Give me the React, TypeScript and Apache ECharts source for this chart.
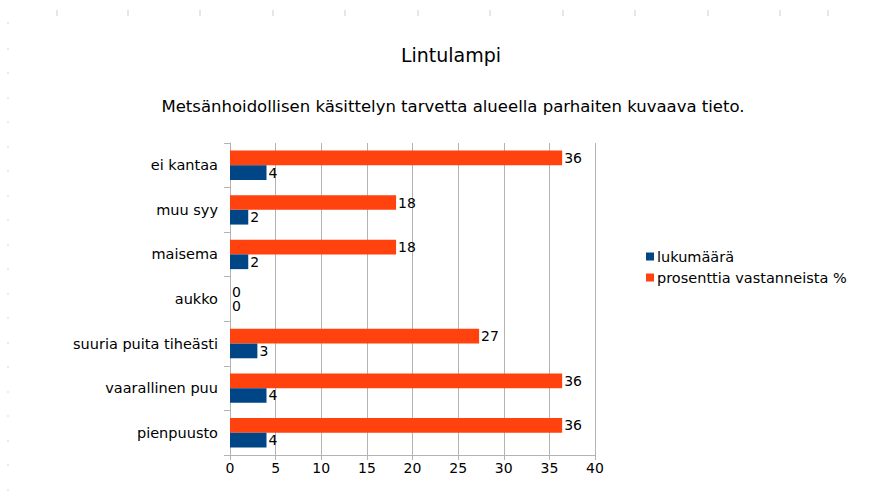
import React, { useEffect, useRef } from "react";
import * as echarts from "echarts";

const titleText = "Lintulampi";
const subtitleText = "Metsänhoidollisen käsittelyn tarvetta alueella parhaiten kuvaava tieto.";
const categories = ["pienpuusto", "vaarallinen puu", "suuria puita tiheästi", "aukko", "maisema", "muu syy", "ei kantaa"];
const seriesNames = ["lukumäärä", "prosenttia vastanneista %"];
const countValues = [4, 4, 3, 0, 2, 2, 4];
const percentValues = [36.4, 36.4, 27.3, 0, 18.2, 18.2, 36.4];
const xTicks = { min: 0, max: 40, interval: 5 };

const topMarksX = [57, 128, 200, 273, 345, 418, 490, 563, 635, 708, 780, 828];
const leftMarksY = [22, 48, 72, 97, 121, 146, 170, 195, 219, 244, 268, 293, 317, 342, 366, 391, 415, 440, 464, 489];

export default function App() {
  const ref = useRef<HTMLDivElement>(null);
  useEffect(() => {
    const chart = echarts.init(ref.current!, null, { renderer: "svg" });
    const font = "'DejaVu Sans', Verdana, sans-serif";
    const graphics: any[] = [];
    topMarksX.forEach((x) =>
      graphics.push({ type: "line", shape: { x1: x, y1: 10, x2: x, y2: 16 }, style: { stroke: "#cfcfcf", lineWidth: 1 }, silent: true })
    );
    leftMarksY.forEach((y) =>
      graphics.push({ type: "line", shape: { x1: 8, y1: y, x2: 8, y2: y + 2 }, style: { stroke: "#d8d8d8", lineWidth: 1 }, silent: true })
    );
    const labelFmt = (p: any) => String(Math.round(p.value));
    chart.setOption({
      animation: false,
      backgroundColor: "#ffffff",
      textStyle: { fontFamily: font },
      title: [
        { text: titleText, left: 446, top: 40, textAlign: "center", textStyle: { fontSize: 19, fontWeight: "normal", color: "#000", fontFamily: font } },
        { text: subtitleText, left: 448, top: 93, textAlign: "center", textStyle: { fontSize: 16.5, fontWeight: "normal", color: "#000", fontFamily: font } },
      ],
      legend: {
        orient: "vertical",
        left: 641,
        top: 244,
        itemWidth: 8,
        itemHeight: 8,
        itemGap: 6,
        icon: "rect",
        textStyle: { fontSize: 14.5, color: "#000", fontFamily: font, padding: [0, 0, 0, -2] },
        data: seriesNames,
      },
      grid: { left: 230, right: 287, top: 143, bottom: 47, containLabel: false },
      xAxis: {
        type: "value",
        min: xTicks.min,
        max: xTicks.max,
        interval: xTicks.interval,
        axisLine: { show: true, lineStyle: { color: "#b3b3b3", width: 1 } },
        axisTick: { show: true, length: 5, lineStyle: { color: "#b3b3b3" } },
        axisLabel: { fontSize: 14, color: "#000", margin: 6, fontFamily: font },
        splitLine: { show: true, lineStyle: { color: "#b3b3b3", width: 1 } },
      },
      yAxis: {
        type: "category",
        data: categories,
        axisLine: { show: true, lineStyle: { color: "#b3b3b3", width: 1 } },
        axisTick: { show: true, length: 6, lineStyle: { color: "#b3b3b3" } },
        axisLabel: { fontSize: 14.5, color: "#000", margin: 12, fontFamily: font },
        splitLine: { show: false },
      },
      series: [
        {
          name: seriesNames[1],
          type: "bar",
          data: percentValues,
          itemStyle: { color: "#ff420e" },
          barGap: "0%",
          barCategoryGap: "34%",
          label: { show: true, position: "right", distance: 2, fontSize: 14, color: "#000", fontFamily: font, formatter: labelFmt },
        },
        {
          name: seriesNames[0],
          type: "bar",
          data: countValues,
          itemStyle: { color: "#004586" },
          barGap: "0%",
          barCategoryGap: "34%",
          label: { show: true, position: "right", distance: 2, fontSize: 14, color: "#000", fontFamily: font, formatter: labelFmt },
        },
      ],
      graphic: graphics,
    });
    return () => chart.dispose();
  }, []);
  return <div ref={ref} style={{ position: "fixed", left: 0, top: 0, width: 882, height: 502 }} />;
}
